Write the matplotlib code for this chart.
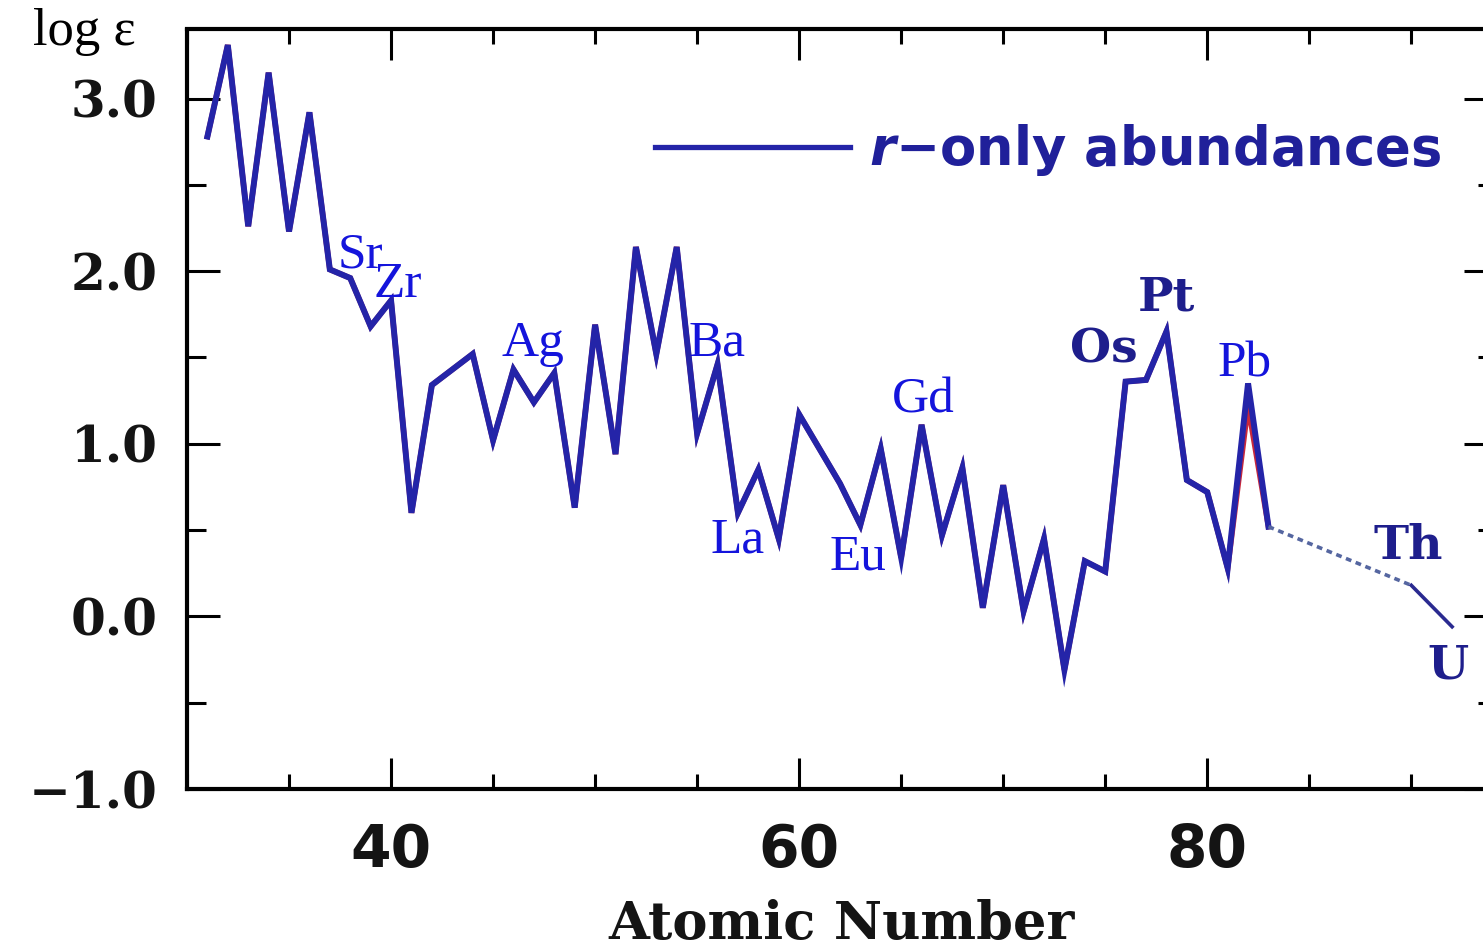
import matplotlib
matplotlib.use("Agg")
import matplotlib.pyplot as plt
from matplotlib.ticker import MultipleLocator
from matplotlib.lines import Line2D

# Solar-system r-only abundances, log epsilon versus atomic number
atomic_number = [31, 32, 33, 34, 35, 36, 37, 38, 39, 40, 41, 42,
                 44, 45, 46, 47, 48, 49, 50, 51, 52, 53, 54, 55, 56, 57, 58, 59, 60,
                 62, 63, 64, 65, 66, 67, 68, 69, 70, 71, 72, 73, 74, 75, 76, 77, 78,
                 79, 80, 81, 82, 83]
log_eps = [2.78, 3.31, 2.26, 3.15, 2.23, 2.92, 2.01, 1.96, 1.68, 1.83, 0.60, 1.34,
           1.52, 1.02, 1.43, 1.24, 1.41, 0.63, 1.69, 0.94, 2.14, 1.52, 2.14, 1.06, 1.46,
           0.60, 0.85, 0.45, 1.17,
           0.77, 0.53, 0.97, 0.34, 1.11, 0.47, 0.86, 0.05, 0.76, 0.03, 0.45, -0.31,
           0.32, 0.26, 1.36, 1.37, 1.65, 0.79, 0.72, 0.28, 1.35, 0.52]
# second (red) estimate differs only for lead
pb_alt = 1.22

# actinides
actinide_z = [90, 92]
actinide_eps = [0.18, -0.06]

# element labels: (text, x, baseline y)
labels_serif = [("Sr", 38.48, 2.02), ("Zr", 40.34, 1.85), ("Ag", 46.96, 1.51),
                ("Ba", 55.98, 1.51), ("La", 56.96, 0.37), ("Eu", 62.89, 0.27),
                ("Gd", 66.08, 1.18), ("Pb", 81.81, 1.39)]
labels_bold = [("Os", 74.95, 1.47), ("Pt", 77.99, 1.77), ("Th", 89.85, 0.33),
               ("U", 91.81, -0.36)]

plt.rcParams["mathtext.fontset"] = "custom"
plt.rcParams["mathtext.it"] = "DejaVu Sans:italic:bold"
plt.rcParams["mathtext.rm"] = "DejaVu Sans:bold"

W, H = 1483, 947
fig = plt.figure(figsize=(W / 100, H / 100), dpi=100)
fig.patch.set_facecolor("white")

left_px, right_px, top_px, bottom_px = 187, 1497, 29.5, 789
ax = fig.add_axes([left_px / W, 1 - bottom_px / H,
                   (right_px - left_px) / W, (bottom_px - top_px) / H])
ax.set_xlim(30, 94.2)
ax.set_ylim(-1.0, 3.4)

line_blue = "#2424a8"

# red estimate underneath
alt_eps = [pb_alt if z == 82 else v for z, v in zip(atomic_number, log_eps)]
ax.plot(atomic_number, alt_eps, color="#c8283c", lw=4.0, zorder=2,
        solid_joinstyle="miter")
ax.plot(atomic_number, log_eps, color=line_blue, lw=4.3, zorder=3,
        solid_joinstyle="miter")

# bridge from Bi to Th, then Th to U
ax.plot([atomic_number[-1], actinide_z[0]], [log_eps[-1], actinide_eps[0]],
        color="#5566a0", lw=2.6, linestyle=(0, (1.6, 1.3)), zorder=3)
ax.plot(actinide_z, actinide_eps, color="#2a2a90", lw=2.6, zorder=3)

for txt, x, y in labels_serif:
    ax.text(x, y, txt, ha="center", va="baseline", color="#1414dc",
            fontsize=37, family="Liberation Serif", zorder=4)
for txt, x, y in labels_bold:
    ax.text(x, y, txt, ha="center", va="baseline", color="#1e1e8c",
            fontsize=34, family="DejaVu Serif", fontweight="bold", zorder=4)

# axes styling
for sp in ax.spines.values():
    sp.set_linewidth(3.0)
    sp.set_color("black")

ax.xaxis.set_major_locator(MultipleLocator(20))
ax.xaxis.set_minor_locator(MultipleLocator(5))
ax.yaxis.set_major_locator(MultipleLocator(1.0))
ax.yaxis.set_minor_locator(MultipleLocator(0.5))

ax.tick_params(axis="both", which="both", direction="in", top=True, right=True,
               width=2.2, color="black")
ax.tick_params(axis="x", which="major", length=22, pad=24)
ax.tick_params(axis="x", which="minor", length=11)
ax.tick_params(axis="y", which="major", length=24, pad=21)
ax.tick_params(axis="y", which="minor", length=14)

ax.set_yticks([-1, 0, 1, 2, 3])
ax.set_yticklabels(["\u22121.0", "0.0", "1.0", "2.0", "3.0"])
for lab in ax.get_yticklabels():
    lab.set_family("DejaVu Serif")
    lab.set_fontweight("bold")
    lab.set_fontsize(36)
    lab.set_color("#141414")
ax.set_xticks([40, 60, 80])
for lab in ax.get_xticklabels():
    lab.set_family("DejaVu Sans")
    lab.set_fontweight("bold")
    lab.set_fontsize(42)
    lab.set_color("#141414")

ax.set_xlabel("Atomic Number", family="DejaVu Serif", fontweight="bold",
              fontsize=38, color="#141414", labelpad=14)
fig.text(84 / W, 1 - 45 / H, "log \u03b5", ha="center", va="baseline",
         family="Liberation Serif", fontsize=38, color="black")

handle = Line2D([], [], color=line_blue, lw=3.8)
leg = ax.legend([handle], ["$r$\u2212only abundances"], loc="center left",
                bbox_to_anchor=(655 / W, 1 - 150 / H), bbox_transform=fig.transFigure,
                frameon=False, borderpad=0, borderaxespad=0, handlelength=3.7,
                handletextpad=0.35, labelcolor="#20209a",
                prop={"family": "DejaVu Sans", "weight": "bold", "size": 38})

fig.savefig("out.png", dpi=100, facecolor="white")
